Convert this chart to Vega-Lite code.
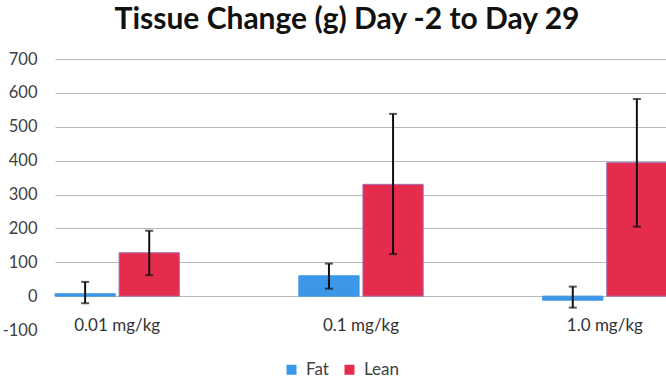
{
  "$schema": "https://vega.github.io/schema/vega-lite/v6.json",
  "autosize": "none",
  "width": 612,
  "height": 271,
  "padding": {"left": 55, "top": 59, "right": 0, "bottom": 48},
  "background": "white",
  "title": {
    "text": "Tissue Change (g) Day -2 to Day 29",
    "font": "Lato",
    "fontSize": 30,
    "fontWeight": "bold",
    "color": "#111111",
    "anchor": "middle",
    "dx": -14,
    "offset": 16
  },
  "config": {
    "view": {"stroke": null},
    "axis": {"labelFont": "Lato", "labelColor": "#404040", "domain": false, "ticks": false},
    "axisY": {
      "labelOverlap": false,
      "labelFontSize": 16.5,
      "labelPadding": 18,
      "gridColor": "#b8b8b8",
      "gridWidth": 1
    }
  },
  "data": {
    "values": [
      {"dose": "0.01 mg/kg", "type": "Fat", "value": 7, "low": -21, "high": 42},
      {"dose": "0.01 mg/kg", "type": "Lean", "value": 128, "low": 62, "high": 193},
      {"dose": "0.1 mg/kg", "type": "Fat", "value": 60, "low": 22, "high": 96},
      {"dose": "0.1 mg/kg", "type": "Lean", "value": 330, "low": 124, "high": 538},
      {"dose": "1.0 mg/kg", "type": "Fat", "value": -12, "low": -34, "high": 28},
      {"dose": "1.0 mg/kg", "type": "Lean", "value": 394, "low": 205, "high": 582}
    ]
  },
  "encoding": {
    "x": {
      "field": "dose",
      "type": "nominal",
      "sort": null,
      "title": null,
      "scale": {"paddingInner": 0.49, "paddingOuter": 0},
      "axis": {"labelAngle": 0, "labelFontSize": 17, "labelColor": "#333333", "labelBaseline": "middle", "labelPadding": -5, "grid": false}
    },
    "xOffset": {"field": "type", "type": "nominal", "scale": {"paddingInner": 0.06}}
  },
  "layer": [
    {
      "mark": {"type": "bar", "strokeWidth": 1},
      "encoding": {
        "y": {
          "field": "value",
          "type": "quantitative",
          "title": null,
          "scale": {"domain": [-100, 700], "nice": false},
          "axis": {
            "values": [-100, 0, 100, 200, 300, 400, 500, 600, 700],
            "labelOverlap": false,
            "labelExpr": "replace(datum.label, '\u2212', '-')",
            "gridOpacity": {"condition": {"test": "datum.value < 0", "value": 0}, "value": 1}
          }
        },
        "color": {
          "field": "type",
          "type": "nominal",
          "scale": {"domain": ["Fat", "Lean"], "range": ["#3d97e8", "#e62c4c"]},
          "legend": {
            "title": null,
            "orient": "none",
            "direction": "horizontal",
            "legendX": 228,
            "legendY": 302,
            "symbolType": "square",
            "symbolSize": 100,
            "symbolStrokeWidth": 0,
            "labelFont": "Lato",
            "labelFontSize": 17,
            "labelColor": "#404040",
            "labelOffset": 6,
            "columnPadding": 12
          }
        },
        "stroke": {
          "field": "type",
          "type": "nominal",
          "scale": {"domain": ["Fat", "Lean"], "range": ["#3d97e8", "#a36db5"]},
          "legend": null
        }
      }
    },
    {
      "mark": {"type": "rule", "color": "#111111", "strokeWidth": 2},
      "encoding": {
        "y": {
          "field": "low",
          "type": "quantitative",
          "title": null,
          "axis": {
            "values": [-100, 0, 100, 200, 300, 400, 500, 600, 700],
            "labelOverlap": false,
            "labelExpr": "replace(datum.label, '\u2212', '-')",
            "gridOpacity": {"condition": {"test": "datum.value < 0", "value": 0}, "value": 1}
          }
        },
        "y2": {"field": "high"}
      }
    },
    {
      "mark": {"type": "tick", "color": "#111111", "thickness": 2, "size": 8, "orient": "horizontal"},
      "encoding": {
        "y": {
          "field": "high",
          "type": "quantitative",
          "title": null,
          "axis": {
            "values": [-100, 0, 100, 200, 300, 400, 500, 600, 700],
            "labelOverlap": false,
            "labelExpr": "replace(datum.label, '\u2212', '-')",
            "gridOpacity": {"condition": {"test": "datum.value < 0", "value": 0}, "value": 1}
          }
        }
      }
    },
    {
      "mark": {"type": "tick", "color": "#111111", "thickness": 2, "size": 8, "orient": "horizontal"},
      "encoding": {
        "y": {
          "field": "low",
          "type": "quantitative",
          "title": null,
          "axis": {
            "values": [-100, 0, 100, 200, 300, 400, 500, 600, 700],
            "labelOverlap": false,
            "labelExpr": "replace(datum.label, '\u2212', '-')",
            "gridOpacity": {"condition": {"test": "datum.value < 0", "value": 0}, "value": 1}
          }
        }
      }
    }
  ]
}
